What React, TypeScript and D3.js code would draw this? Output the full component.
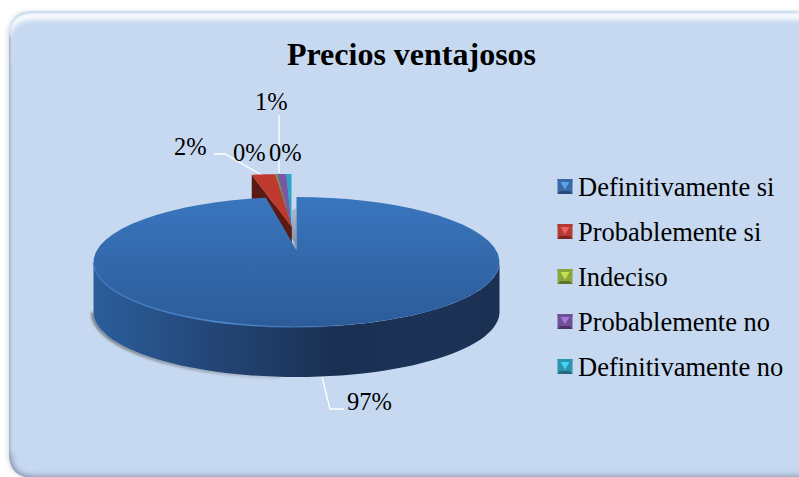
import React from "react";
import * as d3 from "d3";

const title = "Precios ventajosos";
const categories = ["Definitivamente si", "Probablemente si", "Indeciso", "Probablemente no", "Definitivamente no"];
const shares = [97.1, 1.7, 0.15, 0.65, 0.4];
const pctLabels = ["97%", "2%", "0%", "1%", "0%"];
const topColors = ["#3670b8", "#c0392f", "#7f9a3a", "#7b58a6", "#2ea6c4"];
const wallColors = ["#24497a", "#5c1a14", "#4a5a20", "#3f2a5c", "#1a6478"];
const keyLight = ["#5aa2e8", "#f0605a", "#c6e050", "#a47ad8", "#40d8f4"];
const keyMid = ["#3a69a8", "#b53a36", "#8aa63e", "#6f4f98", "#2e94ae"];
const keyDark = ["#264a7c", "#7c2420", "#5e7228", "#4c3468", "#1e6a80"];

// layout
const W = 799, H = 477;
const cx = 296.5, cy = 262, rx = 203, ry = 65, depth = 50, k = 0.185;
const fanDx = -5, fanDy = -23, fanScaleX = 1.3;
const labelAt: [number, number][] = [[347, 410], [174, 155], [233, 161], [255, 110], [269, 161]];
const leaders: [number, number][][] = [
  [[322, 377], [330, 409], [344, 409]],
  [[214, 154], [225, 154], [260, 174]],
  [],
  [[279, 115], [279, 173]],
  [],
];

const sx = d3.scaleLinear().domain([-1, 1]).range([cx - rx, cx + rx]);
const sy = d3.scaleLinear().domain([-1, 1]).range([cy + ry, cy - ry]);

// disk point (polar) -> screen, with a perspective tilt
function project(a: number, r: number): [number, number] {
  const u = r * Math.sin(a), v = r * Math.cos(a);
  const d = 1 + k * v;
  return [sx((u * Math.sqrt(1 - k * k)) / d), sy((v + k) / d)];
}
const lineGen = d3.line<[number, number]>();
const arcPts = (a0: number, a1: number, r = 1) =>
  d3.range(0, 61).map((i) => project(a0 + ((a1 - a0) * i) / 60, r));

const slices = d3.pie<number>().sort(null).value((d) => d)(shares);
const apex = project(0, 0);
const fan = (p: [number, number]): [number, number] => [
  apex[0] + fanDx + (p[0] - apex[0]) * fanScaleX,
  p[1] + fanDy,
];
const drop = (p: [number, number]): [number, number] => [p[0], p[1] + depth];

const main = slices[0];
const mainTop = [apex, ...arcPts(main.startAngle, main.endAngle)];
const wideA = Math.acos(-k);
const rim = arcPts(wideA, 2 * Math.PI - wideA);
const mainWall = [...rim, ...rim.slice().reverse().map(drop)];
const highlight = arcPts(wideA + 0.05, 2 * Math.PI - wideA);
const notch: [number, number][] = [apex, [apex[0] - 4.5, apex[1] - 12], [apex[0] - 4.5, apex[1] - 40], [apex[0], apex[1] - 42]];
const shadowArc = arcPts(2 * Math.PI - wideA, Math.PI * 1.02).map(drop);

const panel = "M34,11H790Q815,11 815,36V453Q815,478 790,478H34Q9,478 9,453V36Q9,11 34,11Z";
const serif = "'Liberation Serif','Times New Roman',serif";
const keyX = 557.5, keyY = 179, keySize = 15, keyStep = 45, keyTextX = 578, keyBase = 196;

export default function App() {
  return (
    <svg width={W} height={H} viewBox={`0 0 ${W} ${H}`}
      style={{ position: "fixed", left: 0, top: 0, display: "block" }} fontFamily={serif}>
      <defs>
        <linearGradient id="topG" x1="0" y1={cy - ry} x2="0" y2={cy + ry} gradientUnits="userSpaceOnUse">
          <stop offset="0" stopColor="#3a76be" />
          <stop offset="1" stopColor="#2c5b99" />
        </linearGradient>
        <linearGradient id="wallG" x1={cx - rx} y1="0" x2={cx + rx} y2="0" gradientUnits="userSpaceOnUse">
          <stop offset="0" stopColor="#2b5e9c" />
          <stop offset="0.25" stopColor="#25497c" />
          <stop offset="0.6" stopColor="#1a3052" />
          <stop offset="0.85" stopColor="#1c3358" />
          <stop offset="1" stopColor="#1b3052" />
        </linearGradient>
        <linearGradient id="hlG" x1={cx - rx} y1="0" x2={cx + 60} y2="0" gradientUnits="userSpaceOnUse">
          <stop offset="0" stopColor="#3a78c2" stopOpacity="0.7" />
          <stop offset="0.5" stopColor="#4a88d0" />
          <stop offset="1" stopColor="#3f7fc8" stopOpacity="0" />
        </linearGradient>
        <linearGradient id="shadowG" x1={cx - rx} y1="0" x2={cx - 40} y2="0" gradientUnits="userSpaceOnUse">
          <stop offset="0" stopColor="#666a6e" stopOpacity="0.85" />
          <stop offset="1" stopColor="#666a6e" stopOpacity="0.25" />
        </linearGradient>
        <linearGradient id="notchG" x1="0" y1={apex[1] - 40} x2="0" y2={apex[1]} gradientUnits="userSpaceOnUse">
          <stop offset="0" stopColor="#a9b8cc" />
          <stop offset="1" stopColor="#7f8c9c" />
        </linearGradient>
        <clipPath id="panelClip"><path d={panel} /></clipPath>
        <filter id="b3" x="-20%" y="-20%" width="140%" height="140%"><feGaussianBlur stdDeviation="2" /></filter>
        <filter id="b2" x="-20%" y="-20%" width="140%" height="140%"><feGaussianBlur stdDeviation="2.5" /></filter>
        <filter id="b1" x="-20%" y="-20%" width="140%" height="140%"><feGaussianBlur stdDeviation="0.8" /></filter>
      </defs>

      <rect width={W} height={H} fill="#fff" />
      <path d={panel} fill="#8a8f98" opacity="0.3" filter="url(#b3)" transform="translate(-1.5,0)" />
      <path d={panel} fill="#c6d9f1" />
      <g clipPath="url(#panelClip)">
        <path d="M6,62V42Q6,16 34,16H820" fill="none" stroke="#fff" strokeWidth="7" filter="url(#b2)" />
        <path d="M9,60V36Q9,11 34,11H815" fill="none" stroke="#b8cfea" strokeWidth="2" filter="url(#b1)" />
        <path d="M9,36V453Q9,478 34,478" fill="none" stroke="#9fb2cb" strokeWidth="3" filter="url(#b1)" />
        <path d="M9,453Q9,478 34,478H815" fill="none" stroke="#95a5bb" strokeWidth="6" filter="url(#b2)" />
      </g>

      <text x={411.5} y={65} textAnchor="middle" fontSize={32} fontWeight="bold" fill="#000">{title}</text>

      <path d={lineGen(shadowArc)!} fill="none" stroke="url(#shadowG)" strokeWidth="3" filter="url(#b1)" transform="translate(-1,0.5)" />

      <path d={lineGen(notch) + "Z"} fill="url(#notchG)" />

      {slices.slice(1).reverse().map((s, j) => {
        const idx = slices.length - 1 - j;
        const top = [fan(apex), ...arcPts(s.startAngle, s.endAngle).map(fan)];
        const oL = fan(project(s.startAngle, 1));
        const wall = [fan(apex), oL, drop(oL), drop(fan(apex))];
        return (
          <g key={categories[idx]}>
            <path d={lineGen(wall) + "Z"} fill={wallColors[idx]} />
            <path d={lineGen(top) + "Z"} fill={topColors[idx]} />
          </g>
        );
      })}

      <path d={lineGen(mainWall) + "Z"} fill="url(#wallG)" />
      <path d={lineGen(mainTop) + "Z"} fill="url(#topG)" />
      <path d={lineGen(highlight)!} fill="none" stroke="url(#hlG)" strokeWidth="1.6" />

      {leaders.map((l, i) => l.length > 0 && (
        <path key={i} d={lineGen(l)!} fill="none" stroke="#fff" strokeWidth="1.3" />
      ))}
      {pctLabels.map((t, i) => (
        <text key={i} x={labelAt[i][0]} y={labelAt[i][1]} fontSize={24.5} fill="#000">{t}</text>
      ))}

      {categories.map((c, i) => {
        const x = keyX, y = keyY + i * keyStep, s = keySize, n = 3;
        const mid: [number, number] = [x + s / 2, y + s / 2 + 1];
        return (
          <g key={c}>
            <rect x={x} y={y} width={s} height={s} fill={keyMid[i]} />
            <path d={`M${x + n},${y + n}H${x + s - n}L${mid[0]},${mid[1] + 2}Z`} fill={keyLight[i]} />
            <rect x={x} y={y} width={s} height={2} fill={keyMid[i]} />
            <path d={`M${x},${y + s}L${x + n},${y + s - n}H${x + s - n}L${x + s},${y + s}Z`} fill={keyDark[i]} />
            <text x={keyTextX} y={keyBase + i * keyStep} fontSize={26.5} fill="#000">{c}</text>
          </g>
        );
      })}
    </svg>
  );
}
